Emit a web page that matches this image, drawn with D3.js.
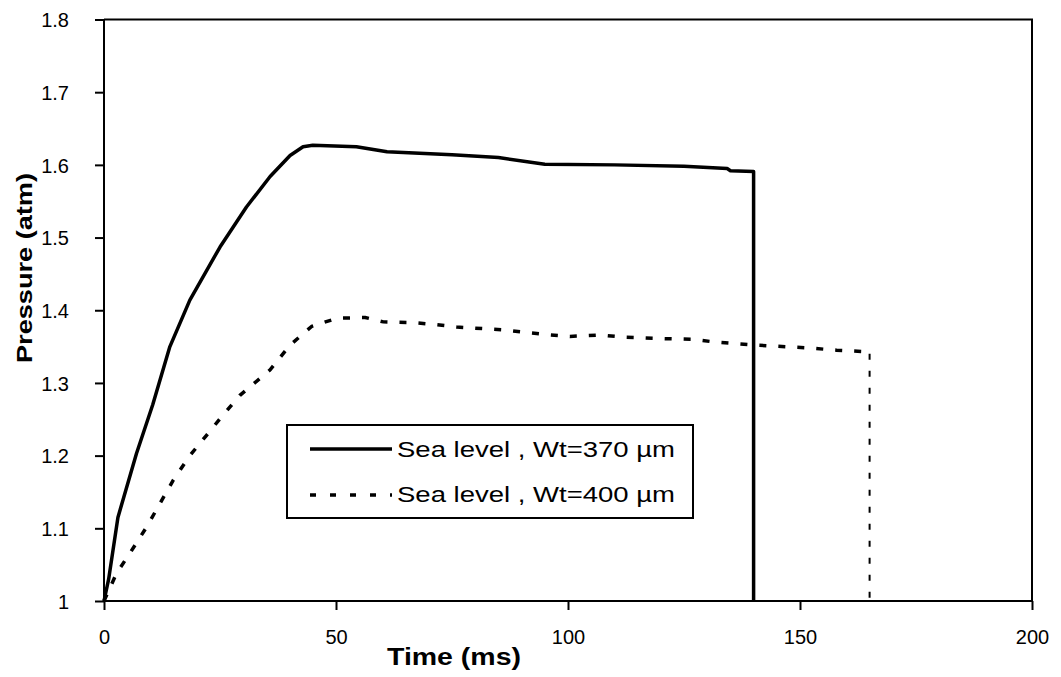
<!DOCTYPE html>
<html>
<head>
<meta charset="utf-8">
<script src="https://cdn.jsdelivr.net/npm/d3@7"></script>
<style>
  body { margin: 0; background: #fff; }
  text { font-family: "Liberation Sans", Arial, sans-serif; fill: #000; }
</style>
</head>
<body>
<svg id="chart" width="1061" height="677"></svg>
<script>
// data
const xTicks = [0, 50, 100, 150, 200]
const yTicks = [1, 1.1, 1.2, 1.3, 1.4, 1.5, 1.6, 1.7, 1.8]

const wt370 = [
  [0, 1.0], [1, 1.03], [3, 1.115], [7, 1.203], [10.5, 1.27], [14.2, 1.35],
  [18.5, 1.414], [25, 1.487], [30.7, 1.542], [35.8, 1.584], [40.1, 1.613],
  [42.9, 1.625], [45, 1.627], [54.4, 1.625], [61, 1.618], [75, 1.614],
  [85, 1.61], [95, 1.601], [110, 1.6], [125, 1.598], [134.3, 1.595],
  [135, 1.592], [140, 1.591], [140, 1.0]
]

const wt400 = [
  [0, 1.0], [2.7, 1.038], [5.6, 1.066], [9.2, 1.102], [14.9, 1.166],
  [18.5, 1.2], [22.1, 1.228], [25.4, 1.254], [29.3, 1.283], [35.8, 1.318],
  [40.1, 1.352], [44.8, 1.378], [50.2, 1.389], [56.3, 1.39],
  [60.2, 1.384], [66.6, 1.383], [70.3, 1.381], [76, 1.377], [86, 1.373],
  [90.3, 1.37], [96.1, 1.366], [100.4, 1.364], [106.9, 1.366], [111.9, 1.363],
  [120.5, 1.361], [126.9, 1.36], [132, 1.356], [140.6, 1.352], [152.2, 1.348],
  [157.9, 1.345], [164.4, 1.343], [165, 1.34]
]
const wt400drop = [[165, 1.34], [165, 1.0]]

const svg = d3.select('#chart')

const x = d3.scaleLinear().domain([0, 200]).range([104, 1032])
const y = d3.scaleLinear().domain([1, 1.8]).range([601, 19.5])

// plot box (top + right)
svg.append('path')
  .attr('d', `M${x(0)},${y(1.8)}H${x(200)}V${y(1)}`)
  .attr('fill', 'none')
  .attr('stroke', '#000')
  .attr('stroke-width', 2)

// axes
let xAxis = svg.append('g')
  .attr('transform', `translate(0,${y(1)})`)
  .call(d3.axisBottom(x).tickValues(xTicks).tickSize(9).tickPadding(20).tickFormat(d3.format('d')))
let yAxis = svg.append('g')
  .attr('transform', `translate(${x(0)},0)`)
  .call(d3.axisLeft(y).tickValues(yTicks).tickSize(9).tickPadding(26).tickFormat((d) => d3.format('')(+d.toFixed(1))))

;[xAxis, yAxis].forEach((a) => {
  a.select('.domain').attr('stroke-width', 2).attr('d', a === xAxis ? `M${x(0)},0H${x(200)}` : `M0,${y(1)}V${y(1.8)}`)
  a.selectAll('.tick line').attr('stroke-width', 2)
  a.selectAll('.tick text')
    .style('font-family', '"Liberation Sans", Arial, sans-serif')
    .style('font-size', '20px')
    .attr('fill', '#000')
})
yAxis.selectAll('.tick text').attr('dy', '0.36em')

// axis titles
svg.append('text')
  .attr('x', 454)
  .attr('y', 665)
  .attr('text-anchor', 'middle')
  .attr('textLength', 134)
  .attr('lengthAdjust', 'spacingAndGlyphs')
  .style('font-size', '23px')
  .style('font-weight', 'bold')
  .text('Time (ms)')

svg.append('text')
  .attr('transform', 'translate(32,268) rotate(-90)')
  .attr('text-anchor', 'middle')
  .attr('textLength', 190)
  .attr('lengthAdjust', 'spacingAndGlyphs')
  .style('font-size', '22px')
  .style('font-weight', 'bold')
  .text('Pressure (atm)')

const line = d3.line()
  .x((d) => x(d[0]))
  .y((d) => y(d[1]))

svg.append('path')
  .datum(wt370)
  .attr('d', line)
  .attr('fill', 'none')
  .attr('stroke', '#000')
  .attr('stroke-width', 3.5)
  .attr('stroke-linejoin', 'round')

svg.append('path')
  .datum(wt400)
  .attr('d', line)
  .attr('fill', 'none')
  .attr('stroke', '#000')
  .attr('stroke-width', 3.5)
  .attr('stroke-dasharray', '7,12')

svg.append('path')
  .datum(wt400drop)
  .attr('d', line)
  .attr('fill', 'none')
  .attr('stroke', '#000')
  .attr('stroke-width', 2)
  .attr('stroke-dasharray', '6,11')

// legend
const legend = svg.append('g')
legend.append('rect')
  .attr('x', 287)
  .attr('y', 425)
  .attr('width', 406)
  .attr('height', 93)
  .attr('fill', '#fff')
  .attr('stroke', '#000')
  .attr('stroke-width', 2)

legend.append('line')
  .attr('x1', 310).attr('x2', 392)
  .attr('y1', 449).attr('y2', 449)
  .attr('stroke', '#000')
  .attr('stroke-width', 3.5)
legend.append('line')
  .attr('x1', 310).attr('x2', 392)
  .attr('y1', 495).attr('y2', 495)
  .attr('stroke', '#000')
  .attr('stroke-width', 3.5)
  .attr('stroke-dasharray', '6,14')

const legendLabels = ['Sea level , Wt=370 µm', 'Sea level , Wt=400 µm']
legend.selectAll('.lbl')
  .data(legendLabels)
  .enter()
  .append('text')
  .attr('class', 'lbl')
  .attr('x', 397)
  .attr('y', (d, i) => 457 + i * 45)
  .attr('textLength', 278)
  .attr('lengthAdjust', 'spacingAndGlyphs')
  .style('font-size', '22px')
  .text((d) => d)
</script>
</body>
</html>
